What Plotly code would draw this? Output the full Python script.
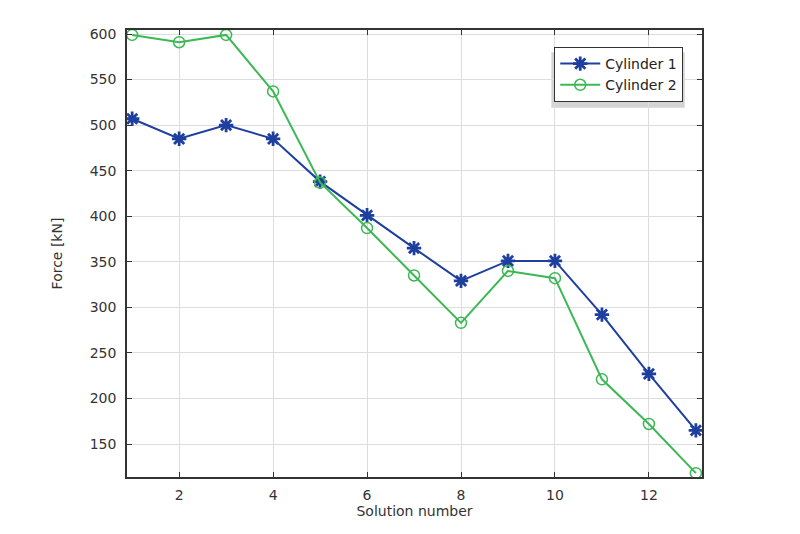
import plotly.graph_objects as go

# solution numbers and cylinder forces (kN)
solutions = list(range(1, 14))
cylinder_1 = [507, 485, 500, 485, 438, 401, 365, 329, 351, 351, 292, 227, 165]
cylinder_2 = [599, 591, 599, 537, 437, 387, 335, 283, 340, 332, 221, 172, 118]

blue = "#1f3f9f"
green = "#3cb854"

figure = go.Figure()

figure.add_trace(go.Scatter(
    x = solutions,
    y = cylinder_1,
    mode = "lines+markers",
    name = "Cylinder 1",
    line = dict(color = blue, width = 2),
    marker = dict(symbol = "asterisk-open", size = 12, line = dict(color = blue, width = 2.8))
))

figure.add_trace(go.Scatter(
    x = solutions,
    y = cylinder_2,
    mode = "lines+markers",
    name = "Cylinder 2",
    line = dict(color = green, width = 2),
    marker = dict(symbol = "circle-open", size = 11, line = dict(color = green, width = 1.5))
))

axis_style = dict(
    showline = True,
    linecolor = "#333333",
    linewidth = 1.5,
    mirror = "ticks",
    ticks = "inside",
    ticklen = 5,
    tickcolor = "#333333",
    showgrid = True,
    gridcolor = "#dddddd",
    gridwidth = 1,
    zeroline = False,
    tickfont = dict(size = 14, color = "#333333"),
)

figure.update_xaxes(
    range = [0.89, 13.13],
    tickvals = [2, 4, 6, 8, 10, 12],
    ticklabelstandoff = 4,
    title = dict(text = "Solution number", font = dict(size = 14, color = "#333333"), standoff = 0),
    **axis_style
)
figure.update_yaxes(
    range = [113.8, 604.4],
    tickvals = [150, 200, 250, 300, 350, 400, 450, 500, 550, 600],
    ticklabelstandoff = 6,
    title = dict(text = "Force [kN]", font = dict(size = 14, color = "#333333"), standoff = 24),
    **axis_style
)

# legend drop shadow
figure.add_shape(
    type = "rect", xref = "paper", yref = "paper",
    x0 = 0.738, x1 = 0.970, y0 = 0.826, y1 = 0.950,
    fillcolor = "#d4d4d4", line = dict(width = 0), layer = "below"
)

figure.update_layout(
    width = 800,
    height = 534,
    margin = dict(l = 119, r = 106, t = 22, b = 65),
    plot_bgcolor = "white",
    paper_bgcolor = "white",
    font = dict(family = "DejaVu Sans", color = "#333333"),
    legend = dict(
        x = 0.743, y = 0.962, xanchor = "left", yanchor = "top",
        bgcolor = "white", bordercolor = "#333333", borderwidth = 1,
        font = dict(size = 14, color = "#222222"),
        itemwidth = 40, tracegroupgap = 0,
    ),
)

figure.write_html("out.html")
